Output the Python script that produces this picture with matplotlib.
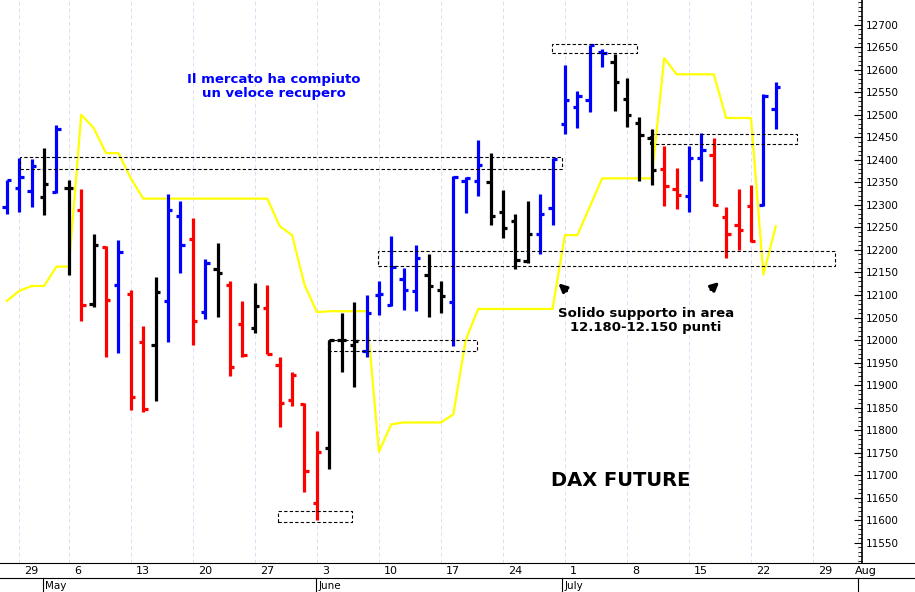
import matplotlib.pyplot as plt
import matplotlib.transforms as mtransforms

# daily OHLC bars (trading days from Apr 26)
opens = [12295, 12338, 12332, 12318, 12329, 12338, 12289, 12080, 12206, 12123,
         12103, 11995, 11988, 12087, 12276, 12224, 12062, 12157, 12123, 12035,
         12026, 12071, 11945, 11867, 11858, 11638, 11761, 11999, 11988, 11975,
         12100, 12078, 12136, 12109, 12145, 12112, 12085, 12354, 12354, 12350,
         12285, 12264, 12175, 12235, 12293, 12480, 12518, 12534, 12639, 12617,
         12536, 12482, 12448, 12379, 12336, 12320, 12404, 12410, 12273, 12255,
         12298, 12300, 12514]
highs = [12355, 12404, 12401, 12426, 12478, 12356, 12336, 12235, 12208, 12222,
         12112, 12031, 12141, 12325, 12309, 12271, 12181, 12215, 12130, 12087,
         12127, 12123, 11963, 11930, 11860, 11797, 11999, 12060, 12085, 12100,
         12132, 12231, 12159, 12210, 12190, 12132, 12365, 12361, 12444, 12415,
         12334, 12280, 12309, 12325, 12404, 12610, 12554, 12655, 12646, 12635,
         12581, 12496, 12469, 12431, 12383, 12431, 12460, 12449, 12296, 12336,
         12345, 12547, 12574]
lows = [12280, 12285, 12296, 12278, 12327, 12145, 12042, 12073, 11963, 11972,
        11844, 11840, 11865, 11995, 12148, 11988, 12046, 12051, 11921, 11963,
        12015, 11968, 11808, 11853, 11662, 11600, 11714, 11930, 11896, 11963,
        12055, 12076, 12067, 12064, 12051, 12060, 11986, 12282, 12320, 12255,
        12226, 12157, 12172, 12192, 12255, 12457, 12471, 12507, 12606, 12509,
        12473, 12354, 12345, 12298, 12291, 12285, 12354, 12298, 12183, 12201,
        12217, 12298, 12469]
closes = [12355, 12363, 12386, 12347, 12469, 12338, 12078, 12210, 12089, 12195,
          11874, 11847, 12107, 12289, 12210, 12042, 12170, 12148, 11941, 11966,
          12076, 11970, 11860, 11923, 11710, 11752, 11999, 11999, 11997, 12060,
          12103, 12163, 12112, 12183, 12120, 12098, 12361, 12359, 12388, 12276,
          12249, 12177, 12235, 12280, 12401, 12534, 12541, 12655, 12637, 12572,
          12500, 12455, 12377, 12343, 12323, 12404, 12422, 12300, 12235, 12244,
          12219, 12541, 12561]
bar_colors = list("BBBKBKRKRBRRKBBRBKRRKRRRRRKKKBBBBBKKBBBKKKKBBBBBBKKKKRRBBRRRRBB")

# yellow lagging line
yellow = [12087, 12109, 12120, 12120, 12163, 12163, 12500, 12471, 12415, 12415,
          12359, 12314, 12314, 12314, 12314, 12314, 12314, 12314, 12314, 12314,
          12314, 12314, 12253, 12233, 12123, 12062, 12064, 12064, 12064, 12064,
          11752, 11813, 11817, 11817, 11817, 11817, 11835, 12000, 12069, 12069,
          12069, 12069, 12069, 12069, 12069, 12233, 12233, 12296, 12359, 12359,
          12359, 12359, 12359, 12626, 12590, 12590, 12590, 12590, 12493, 12493,
          12493, 12145, 12253]

# weekly ticks (bar index) and labels
week_idx = [2, 6, 11, 16, 21, 26, 31, 36, 41, 46, 51, 56, 61, 66]
week_lbl = ["29", "6", "13", "20", "27", "3", "10", "17", "24", "1", "8", "15", "22", "29"]
month_idx = [3.9, 25.9, 45.8, 69.6]
month_lbl = ["May", "June", "July", ""]

# dashed boxes: (x0, x1, y_low, y_high)
boxes = [(2.05, 45.8, 12379, 12406), (22.9, 28.8, 11597, 11620),
         (26.9, 38.9, 11975, 12001), (30.9, 67.8, 12165, 12197),
         (44.95, 51.8, 12637, 12657), (52.85, 64.7, 12435, 12457)]

cmap = {"B": "#0000ff", "R": "#ff0000", "K": "#000000"}

fig = plt.figure(figsize=(9.15, 5.92), dpi=100)
ax = fig.add_axes([0, 0.049, 862 / 915, 0.951])

idx = list(range(1, len(opens) + 1))
for i, o, h, l, c, k in zip(idx, opens, highs, lows, closes, bar_colors):
    col = cmap[k]
    ax.plot([i, i], [l, h], color=col, lw=2.3, solid_capstyle="butt", zorder=3)
    ax.plot([i - 0.35, i], [o, o], color=col, lw=2.3, solid_capstyle="butt", zorder=3)
    ax.plot([i, i + 0.35], [c, c], color=col, lw=2.3, solid_capstyle="butt", zorder=3)

ax.plot(idx, yellow, color="#ffff00", lw=1.6, zorder=2)

for x0, x1, y0, y1 in boxes:
    ax.add_patch(plt.Rectangle((x0, y0), x1 - x0, y1 - y0, fill=False,
                               ls=(0, (3, 2)), lw=0.8, ec="black", zorder=4))

ax.set_xlim(0.45, 69.95)
ax.set_ylim(11505, 12755)
ax.set_xticks(week_idx + [69.6])
ax.set_xticklabels([])
ax.tick_params(axis="x", length=0)
ax.grid(axis="x", color="#dcdcf5", ls=(0, (4, 3)), lw=0.7)

ax.yaxis.tick_right()
ax.set_yticks(range(11550, 12701, 50))
ax.set_yticks(range(11510, 12751, 10), minor=True)
ax.tick_params(axis="y", which="major", length=6, labelsize=7.5, pad=3, direction="in")
ax.tick_params(axis="y", which="minor", length=3, direction="in")
for s in ["top", "left", "bottom"]:
    ax.spines[s].set_visible(False)
ax.spines["right"].set_linewidth(1.2)

tr = mtransforms.blended_transform_factory(ax.transData, fig.transFigure)
for xi, lb in zip(week_idx, week_lbl):
    ax.text(xi + 0.4, 0.035, lb, transform=tr, fontsize=8, va="center", ha="left")
ax.text(69.4, 0.035, "Aug", transform=tr, fontsize=8, va="center", ha="left", clip_on=False)
for xi, lb in zip(month_idx, month_lbl):
    ax.plot([xi, xi], [0.0, 0.024], color="black", lw=0.8, transform=tr, clip_on=False)
    ax.text(xi + 0.2, 0.01, lb, transform=tr, fontsize=7.5, va="center", ha="left")
fig.add_artist(plt.Line2D([0, 1], [0.023, 0.023], color="black", lw=0.8))
fig.add_artist(plt.Line2D([0, 1], [0.049, 0.049], color="black", lw=0.8))

ax.text(22.5, 12562, "Il mercato ha compiuto\nun veloce recupero", color="#0000ff",
        fontsize=9.5, fontweight="bold", ha="center", va="center", linespacing=1.1)
ax.text(52.5, 12044, "Solido supporto in area\n12.180-12.150 punti", color="black",
        fontsize=9.5, fontweight="bold", ha="center", va="center", linespacing=1.1)
ax.text(50.5, 11688, "DAX FUTURE", color="black", fontsize=14, fontweight="bold",
        ha="center", va="center")
ax.annotate("", xy=(45.3, 12130), xytext=(46.3, 12105),
            arrowprops=dict(arrowstyle="-|>", color="black", lw=2.2, mutation_scale=12))
ax.annotate("", xy=(58.6, 12133), xytext=(57.6, 12108),
            arrowprops=dict(arrowstyle="-|>", color="black", lw=2.2, mutation_scale=12))

fig.savefig("out.png", dpi=100)
